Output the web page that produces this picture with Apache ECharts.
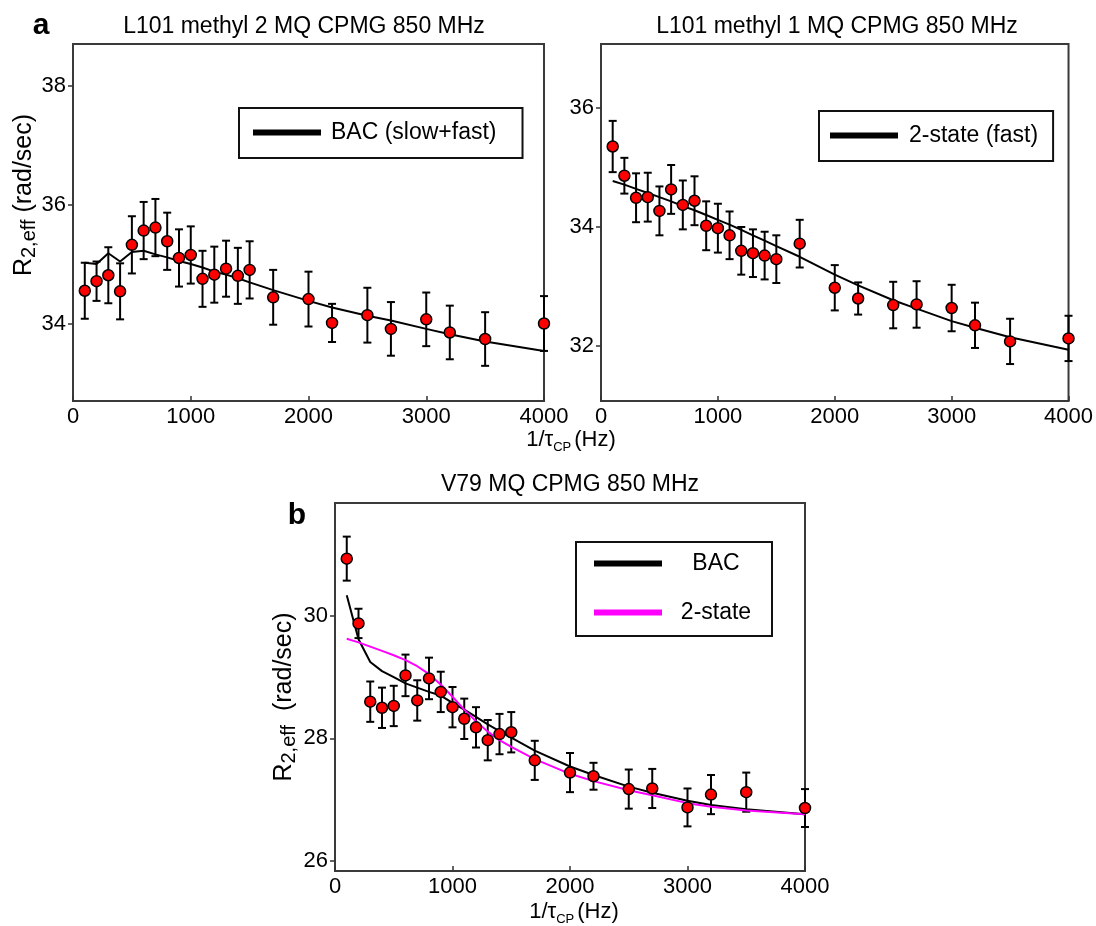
<!DOCTYPE html>
<html>
<head>
<meta charset="utf-8">
<script src="https://cdn.jsdelivr.net/npm/echarts@6/dist/echarts.min.js"></script>
<style>
html,body{margin:0;padding:0;background:#fff}
#main{width:1096px;height:926px}
</style>
</head>
<body>
<div id="main"></div>
<script>
var FONT = "'Liberation Sans', Arial, Helvetica, sans-serif";

// 1/tau_cp (Hz), shared by all three panels
var xVals = [100,200,300,400,500,600,700,800,900,1000,1100,1200,1300,1400,1500,1700,2000,2200,2500,2700,3000,3200,3500,4000];

// panel a, left: L101 methyl 2
var aR2  = [34.56,34.72,34.82,34.55,35.33,35.57,35.62,35.39,35.11,35.16,34.76,34.83,34.93,34.81,34.91,34.45,34.42,34.02,34.15,33.92,34.08,33.86,33.75,34.01];
var aErr = [0.47,0.33,0.47,0.47,0.48,0.48,0.48,0.48,0.48,0.48,0.47,0.47,0.47,0.47,0.48,0.46,0.46,0.32,0.46,0.45,0.45,0.45,0.45,0.46];
var aFit = [35.03,35.01,35.19,35.05,35.21,35.23,35.17,35.12,35.06,35.01,34.95,34.88,34.83,34.77,34.70,34.57,34.39,34.28,34.14,34.06,33.92,33.83,33.71,33.55];

// panel a, right: L101 methyl 1
var bR2  = [35.35,34.86,34.49,34.50,34.27,34.63,34.37,34.44,34.02,33.98,33.86,33.60,33.56,33.52,33.46,33.72,32.98,32.80,32.69,32.70,32.64,32.35,32.08,32.13];
var bErr = [0.43,0.30,0.41,0.41,0.41,0.41,0.41,0.41,0.41,0.41,0.40,0.40,0.40,0.40,0.40,0.40,0.38,0.27,0.39,0.39,0.39,0.38,0.38,0.38];
var bFit = [34.77,34.71,34.64,34.57,34.50,34.43,34.35,34.28,34.20,34.12,34.04,33.95,33.86,33.77,33.68,33.50,33.20,33.02,32.77,32.63,32.42,32.31,32.15,31.94];

// panel b: V79
var cR2  = [30.94,29.88,28.60,28.50,28.53,29.03,28.62,28.98,28.76,28.51,28.32,28.18,27.97,28.07,28.10,27.64,27.44,27.38,27.17,27.18,26.87,27.08,27.12,26.86];
var cErr = [0.36,0.24,0.33,0.33,0.33,0.34,0.33,0.34,0.33,0.33,0.33,0.33,0.33,0.33,0.33,0.32,0.32,0.22,0.32,0.32,0.31,0.32,0.32,0.31];
var cBac = [30.34,29.62,29.25,29.10,29.00,28.90,28.83,28.76,28.70,28.58,28.47,28.35,28.23,28.12,28.01,27.80,27.54,27.40,27.21,27.11,26.98,26.91,26.84,26.76];
var cTwo = [29.63,29.57,29.50,29.43,29.36,29.28,29.18,29.05,28.88,28.68,28.47,28.28,28.11,27.97,27.86,27.66,27.42,27.30,27.15,27.07,26.94,26.88,26.82,26.76];

// tick labels
var xTicks = [0,1000,2000,3000,4000];
var aTicks = [34,36,38];
var bTicks = [32,34,36];
var cTicks = [26,28,30];

var myChart = echarts.init(document.getElementById('main'));

function pairs(ys){
    return xVals.map(function(x,i){ return [x, ys[i]]; });
}
function bars(ys, es){
    return xVals.map(function(x,i){ return [x, ys[i]-es[i], ys[i]+es[i]]; });
}
function renderErr(params, api){
    var x = api.value(0);
    var p1 = api.coord([x, api.value(1)]);
    var p2 = api.coord([x, api.value(2)]);
    var w = 4;
    var s = {stroke:'#000', lineWidth:2};
    return {type:'group', children:[
        {type:'line', shape:{x1:p1[0],y1:p1[1],x2:p2[0],y2:p2[1]}, style:s},
        {type:'line', shape:{x1:p1[0]-w,y1:p1[1],x2:p1[0]+w,y2:p1[1]}, style:s},
        {type:'line', shape:{x1:p2[0]-w,y1:p2[1],x2:p2[0]+w,y2:p2[1]}, style:s}
    ]};
}
function plain(v){ return String(v); }
function xAx(g){
    return {
        type:'value', gridIndex:g, min:0, max:4000, interval:1000,
        axisLine:{show:false},
        axisTick:{inside:true, length:5, customValues:xTicks, lineStyle:{color:'#333', width:1.5}},
        axisLabel:{customValues:xTicks, formatter:plain, color:'#000', fontSize:22, fontFamily:FONT, margin:5},
        splitLine:{show:false}
    };
}
function yAx(g, mn, mx, ticks){
    return {
        type:'value', gridIndex:g, min:mn, max:mx,
        axisLine:{show:false},
        axisTick:{inside:false, length:5, customValues:ticks, lineStyle:{color:'#333', width:1.5}},
        axisLabel:{customValues:ticks, formatter:plain, color:'#000', fontSize:22, fontFamily:FONT, margin:7},
        splitLine:{show:false}
    };
}
function errSeries(g, ys, es){
    return {type:'custom', xAxisIndex:g, yAxisIndex:g, renderItem:renderErr,
        encode:{x:0, y:[1,2]}, data:bars(ys, es), z:2, silent:true};
}
function fitSeries(g, name, ys, color){
    return {type:'line', name:name, xAxisIndex:g, yAxisIndex:g, data:pairs(ys),
        symbol:'none', lineStyle:{color:color, width:2}, itemStyle:{color:color}, z:3, silent:true};
}
function dotSeries(g, ys){
    return {type:'scatter', xAxisIndex:g, yAxisIndex:g, data:pairs(ys), symbolSize:11,
        itemStyle:{color:'#ff0000', borderColor:'#000', borderWidth:1.5, opacity:1}, z:4, silent:true};
}
function legendBox(names, left, top, pad, rich, extra){
    var l = {
        data:names, left:left, top:top, padding:pad, icon:'rect', itemWidth:68, itemHeight:6,
        borderColor:'#111', borderWidth:2, selectedMode:false,
        formatter:'{t|{name}}',
        textStyle:{color:'#000', fontFamily:FONT, rich:{t:rich}}
    };
    for (var k in extra) l[k] = extra[k];
    return l;
}

var gridStyle = {show:true, borderColor:'#3a3a3a', borderWidth:2, backgroundColor:'transparent'};

option = {
    animation:false,
    backgroundColor:'#fff',
    grid:[
        Object.assign({left:73, top:44, width:471, height:357}, gridStyle),
        Object.assign({left:601, top:44, width:470, height:357}, gridStyle),
        Object.assign({left:335, top:503, width:470, height:368}, gridStyle)
    ],
    xAxis:[xAx(0), xAx(1), xAx(2)],
    yAxis:[
        yAx(0, 32.71, 38.70, aTicks),
        yAx(1, 31.08, 37.07, bTicks),
        yAx(2, 25.83, 31.85, cTicks)
    ],
    legend:[
        legendBox(['BAC (slow+fast)'], 239, 108, [13,26,14,14],
            {fontSize:23, lineHeight:26, padding:[0,0,0,5], fontFamily:FONT}),
        legendBox(['2-state (fast)'], 819, 111, [13,15,14,11],
            {fontSize:23, lineHeight:26, padding:[0,0,0,6], fontFamily:FONT}),
        legendBox(['BAC','2-state'], 576, 542, [10,7,12,18],
            {fontSize:23, lineHeight:26, width:98, align:'center', fontFamily:FONT},
            {orient:'vertical', itemGap:26})
    ],
    series:[
        errSeries(0, aR2, aErr),
        fitSeries(0, 'BAC (slow+fast)', aFit, '#000'),
        dotSeries(0, aR2),
        errSeries(1, bR2, bErr),
        fitSeries(1, '2-state (fast)', bFit, '#000'),
        dotSeries(1, bR2),
        errSeries(2, cR2, cErr),
        fitSeries(2, 'BAC', cBac, '#000'),
        fitSeries(2, '2-state', cTwo, '#ff00ff'),
        dotSeries(2, cR2)
    ],
    graphic:[
        {type:'text', x:41, y:26, style:{text:'a', fontSize:30, fontWeight:'bold', fontFamily:FONT, fill:'#000', align:'center', verticalAlign:'middle'}},
        {type:'text', x:297, y:516, style:{text:'b', fontSize:30, fontWeight:'bold', fontFamily:FONT, fill:'#000', align:'center', verticalAlign:'middle'}},
        {type:'text', x:304, y:27, style:{text:'L101 methyl 2 MQ CPMG 850 MHz', fontSize:23, fontFamily:FONT, fill:'#000', align:'center', verticalAlign:'middle'}},
        {type:'text', x:837, y:27, style:{text:'L101 methyl 1 MQ CPMG 850 MHz', fontSize:23, fontFamily:FONT, fill:'#000', align:'center', verticalAlign:'middle'}},
        {type:'text', x:570, y:485, style:{text:'V79 MQ CPMG 850 MHz', fontSize:23, fontFamily:FONT, fill:'#000', align:'center', verticalAlign:'middle'}},
        {type:'text', x:24, y:195, rotation:Math.PI/2, style:{
            text:'{a|R}{s|2,eff}{a| (rad/sec)}', align:'center', verticalAlign:'middle', fill:'#000',
            rich:{a:{fontSize:25, lineHeight:30, fontFamily:FONT}, s:{fontSize:20, lineHeight:20, verticalAlign:'bottom', fontFamily:FONT}}}},
        {type:'text', x:284, y:697, rotation:Math.PI/2, style:{
            text:'{a|R}{s|2,eff}{a|  (rad/sec)}', align:'center', verticalAlign:'middle', fill:'#000',
            rich:{a:{fontSize:25, lineHeight:30, fontFamily:FONT}, s:{fontSize:20, lineHeight:20, verticalAlign:'bottom', fontFamily:FONT}}}},
        {type:'text', x:571, y:440, style:{
            text:'{a|1/τ}{s|CP}{a|(Hz)}', align:'center', verticalAlign:'middle', fill:'#000',
            rich:{a:{fontSize:22, lineHeight:28, fontFamily:FONT}, s:{fontSize:13, lineHeight:12, verticalAlign:'bottom', fontFamily:FONT, padding:[0,3,0,0]}}}},
        {type:'text', x:574, y:912, style:{
            text:'{a|1/τ}{s|CP}{a|(Hz)}', align:'center', verticalAlign:'middle', fill:'#000',
            rich:{a:{fontSize:22, lineHeight:28, fontFamily:FONT}, s:{fontSize:13, lineHeight:12, verticalAlign:'bottom', fontFamily:FONT, padding:[0,3,0,0]}}}}
    ]
};
myChart.setOption(option, true);
</script>
</body>
</html>
